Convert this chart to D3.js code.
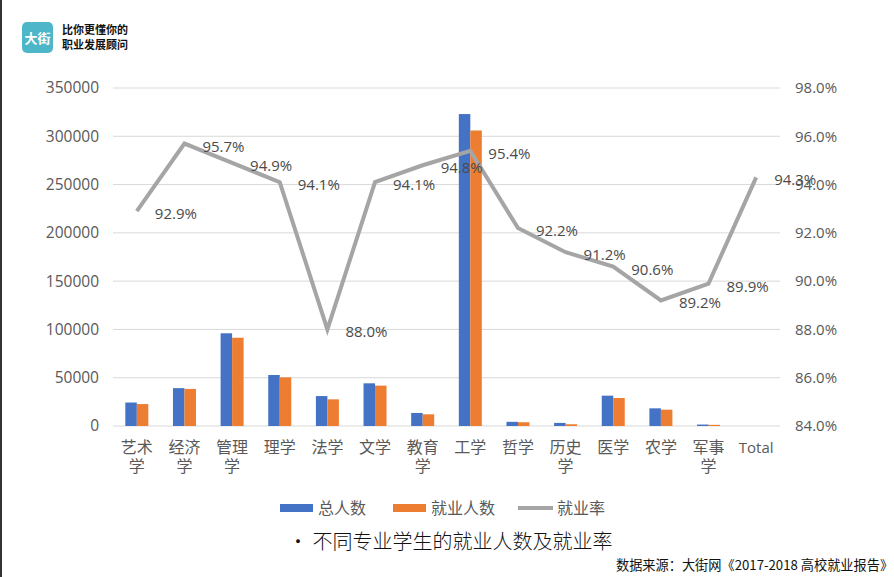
<!DOCTYPE html>
<html>
  <head>
    <meta charset="UTF-8" />
    <script src="https://d3js.org/d3.v7.min.js"></script>
    <style>
      body { margin: 0; background: #fff; }
      svg { display: block; }
    </style>
  </head>
  <body>
    <div id="chart"></div>
    <script>
      // donnees
      const categories = ["艺术学", "经济学", "管理学", "理学", "法学", "文学", "教育学", "工学", "哲学", "历史学", "医学", "农学", "军事学", "Total"];
      const totalPeople = [24300, 39200, 96000, 52800, 31000, 44200, 13500, 323000, 4300, 3200, 31400, 18300, 1500, 0];
      const employedPeople = [22700, 38400, 91400, 50400, 27600, 41800, 12100, 306000, 3900, 1800, 29000, 16900, 1200, 0];
      const employmentRate = [92.9, 95.7, 94.9, 94.1, 88.0, 94.1, 94.8, 95.4, 92.2, 91.2, 90.6, 89.2, 89.9, 94.3];
      const leftTicks = [0, 50000, 100000, 150000, 200000, 250000, 300000, 350000];
      const rightTicks = [84, 86, 88, 90, 92, 94, 96, 98];
      const legendItems = ["总人数", "就业人数", "就业率"];

      const width = 894, height = 577;
      const margin = { top: 88, right: 114, bottom: 151, left: 113 };
      const colors = ["#4472C4", "#ED7D31", "#A5A5A5"];
      const textColor = "#595959";
      const font = "'Open Sans', 'Noto Sans CJK SC', sans-serif";

      const svg = d3.select("#chart")
        .append("svg")
        .attr("width", width)
        .attr("height", height);

      // bordure sombre a gauche
      svg.append("rect").attr("x", 0).attr("y", 0).attr("width", 2).attr("height", height).attr("fill", "#333");

      // logo
      const logo = svg.append("g");
      logo.append("rect")
        .attr("x", 22).attr("y", 22).attr("width", 31).attr("height", 31)
        .attr("rx", 5).attr("fill", "#4DB6C8");
      logo.append("text")
        .attr("x", 37.5).attr("y", 43)
        .attr("text-anchor", "middle")
        .style("font-family", "'Noto Sans CJK SC', sans-serif")
        .style("font-size", "13px").style("font-weight", "bold")
        .attr("fill", "#fff")
        .text("大街");
      logo.append("text")
        .attr("x", 62).attr("y", 34)
        .style("font-family", "'Noto Sans CJK SC', sans-serif")
        .style("font-size", "11px").style("font-weight", "bold")
        .attr("fill", "#111")
        .text("比你更懂你的");
      logo.append("text")
        .attr("x", 62).attr("y", 49)
        .style("font-family", "'Noto Sans CJK SC', sans-serif")
        .style("font-size", "11px").style("font-weight", "bold")
        .attr("fill", "#111")
        .text("职业发展顾问");

      const innerW = width - margin.left - margin.right;
      const innerH = height - margin.top - margin.bottom;

      const g = svg.append("g")
        .attr("transform", "translate(" + margin.left + "," + margin.top + ")");

      const x = d3.scaleBand().domain(categories).range([0, innerW]);
      const y = d3.scaleLinear().domain([0, 350000]).range([innerH, 0]);
      const yRate = d3.scaleLinear().domain([84, 98]).range([innerH, 0]);

      // grille
      g.append("g")
        .selectAll("line")
        .data(leftTicks)
        .join("line")
        .attr("x1", 0).attr("x2", innerW)
        .attr("y1", d => y(d)).attr("y2", d => y(d))
        .attr("stroke", "#d9d9d9").attr("stroke-width", 1);

      // axe gauche
      const leftAxis = g.append("g")
        .call(d3.axisLeft(y).tickValues(leftTicks).tickSize(0).tickPadding(14).tickFormat(d3.format("d")));
      leftAxis.select(".domain").remove();
      leftAxis.selectAll("text")
        .style("font-family", font).style("font-size", "15.5px").attr("fill", textColor);

      // axe droit
      const rightAxis = g.append("g")
        .attr("transform", "translate(" + innerW + ",0)")
        .call(d3.axisRight(yRate).tickValues(rightTicks).tickSize(0).tickPadding(15).tickFormat(d => d.toFixed(1) + "%"));
      rightAxis.select(".domain").remove();
      rightAxis.selectAll("text")
        .style("font-family", font).style("font-size", "15px").attr("fill", textColor);

      // barres
      const barW = 11.5;
      g.append("g")
        .selectAll("rect")
        .data(categories)
        .join("rect")
        .attr("x", d => x(d) + x.bandwidth() / 2 - barW)
        .attr("y", (d, i) => y(totalPeople[i]))
        .attr("width", barW)
        .attr("height", (d, i) => innerH - y(totalPeople[i]))
        .attr("fill", colors[0]);
      g.append("g")
        .selectAll("rect")
        .data(categories)
        .join("rect")
        .attr("x", d => x(d) + x.bandwidth() / 2)
        .attr("y", (d, i) => y(employedPeople[i]))
        .attr("width", barW)
        .attr("height", (d, i) => innerH - y(employedPeople[i]))
        .attr("fill", colors[1]);

      // courbe du taux
      const line = d3.line()
        .x((d, i) => x(categories[i]) + x.bandwidth() / 2)
        .y(d => yRate(d));
      g.append("path")
        .datum(employmentRate)
        .attr("d", line)
        .attr("fill", "none")
        .attr("stroke", colors[2])
        .attr("stroke-width", 4)
        .attr("stroke-linejoin", "miter");

      // etiquettes de valeurs
      g.append("g")
        .selectAll("text")
        .data(employmentRate)
        .join("text")
        .attr("x", (d, i) => x(categories[i]) + x.bandwidth() / 2 + 18)
        .attr("y", d => yRate(d) + 8)
        .style("font-family", font).style("font-size", "15px")
        .attr("fill", "#4a4a4a")
        .text(d => d.toFixed(1) + "%");

      // etiquettes des categories (2 caracteres par ligne)
      const xLabels = g.append("g")
        .selectAll("text")
        .data(categories)
        .join("text")
        .attr("x", d => x(d) + x.bandwidth() / 2)
        .attr("y", innerH + 27)
        .attr("text-anchor", "middle")
        .style("font-family", "'Noto Sans CJK SC', 'Open Sans', sans-serif")
        .style("font-size", "16px")
        .attr("fill", textColor);
      xLabels.each(function (d) {
        const t = d3.select(this);
        const lines = d === "Total" ? [d] : (d.length > 2 ? [d.slice(0, 2), d.slice(2)] : [d]);
        lines.forEach((l, k) => {
          t.append("tspan")
            .attr("x", x(d) + x.bandwidth() / 2)
            .attr("dy", k === 0 ? 0 : 19)
            .style("font-family", d === "Total" ? font : null)
            .style("font-size", d === "Total" ? "15px" : null)
            .text(l);
        });
      });

      // legende
      const legendX = [280, 393, 518];
      const legend = svg.append("g");
      legendItems.forEach((name, i) => {
        if (i < 2) {
          legend.append("rect")
            .attr("x", legendX[i]).attr("y", 504).attr("width", 33).attr("height", 8)
            .attr("fill", colors[i]);
        } else {
          legend.append("line")
            .attr("x1", legendX[i]).attr("x2", legendX[i] + 35)
            .attr("y1", 508).attr("y2", 508)
            .attr("stroke", colors[i]).attr("stroke-width", 4);
        }
        legend.append("text")
          .attr("x", legendX[i] + (i < 2 ? 38 : 39)).attr("y", 514)
          .style("font-family", "'Noto Sans CJK SC', sans-serif")
          .style("font-size", "16px")
          .attr("fill", textColor)
          .text(name);
      });

      // titre
      svg.append("text")
        .attr("x", 288).attr("y", 549)
        .style("font-family", "'Noto Sans CJK SC', sans-serif")
        .style("font-size", "20px").style("font-weight", "300")
        .attr("fill", "#111")
        .text("• 不同专业学生的就业人数及就业率");

      // source
      svg.append("text")
        .attr("x", 616).attr("y", 570)
        .style("font-family", "'Noto Sans CJK SC', sans-serif")
        .style("font-size", "13.2px")
        .attr("fill", "#111")
        .text("数据来源：大街网《2017-2018 高校就业报告》");
    </script>
  </body>
</html>
